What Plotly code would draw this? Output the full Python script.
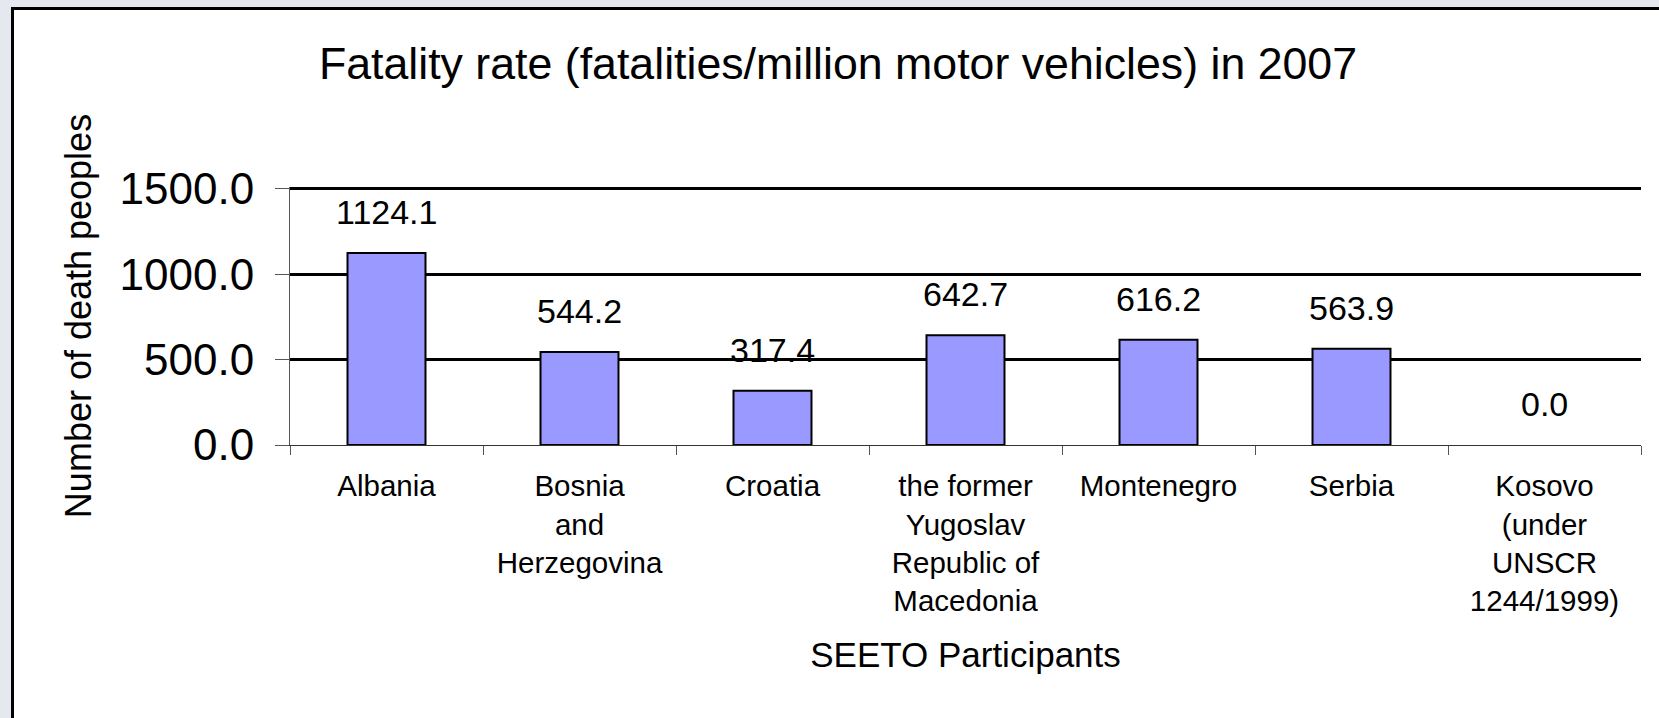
import plotly.graph_objects as go

categories = [
    "Albania",
    "Bosnia<br>and<br>Herzegovina",
    "Croatia",
    "the former<br>Yugoslav<br>Republic of<br>Macedonia",
    "Montenegro",
    "Serbia",
    "Kosovo<br>(under<br>UNSCR<br>1244/1999)",
]
values = [1124.1, 544.2, 317.4, 642.7, 616.2, 563.9, 0.0]
y_ticks = [0, 500, 1000, 1500]

title_text = "Fatality rate (fatalities/million motor vehicles) in 2007"
x_title = "SEETO Participants"
y_title = "Number of death peoples"

FONT = "Liberation Sans, Arial, sans-serif"

W, H = 1659, 718
ML, MR, MT, MB = 290, 18, 187, 273
pw, ph = W - ML - MR, H - MT - MB

def px2paper_x(px):
    return (px - ML) / pw

def px2paper_y(py):
    return (H - MB - py) / ph

fig = go.Figure()
fig.add_trace(go.Bar(
    x=categories,
    y=values,
    width=0.404,
    marker=dict(
        color="#9999FF",
        line=dict(color="black", width=[2 if v > 0 else 0 for v in values]),
    ),
    showlegend=False,
    hoverinfo="x+y",
))

for c, v in zip(categories, values):
    fig.add_annotation(
        x=c, y=v, xref="x", yref="y",
        text=f"{v:.1f}", showarrow=False,
        yanchor="bottom", yshift=20,
        font=dict(family=FONT, size=34, color="black"),
    )

# outer frame
fig.add_shape(
    type="rect", xref="paper", yref="paper", layer="below",
    x0=px2paper_x(12.5), x1=px2paper_x(1700),
    y0=px2paper_y(760), y1=px2paper_y(8.5),
    fillcolor="white", line=dict(color="black", width=3),
)

fig.update_layout(
    width=W, height=H,
    margin=dict(l=ML, r=MR, t=MT, b=MB, autoexpand=False),
    paper_bgcolor="#E6E8F0",
    plot_bgcolor="rgba(0,0,0,0)",
    font=dict(family=FONT, color="black"),
    title=dict(
        text=title_text, x=838 / W, xanchor="center",
        y=1 - 63 / H, yanchor="middle", yref="container",
        font=dict(family=FONT, size=44.7, color="black"),
    ),
    bargap=0.6,
)

fig.update_xaxes(
    type="category",
    range=[-0.5, len(categories) - 0.5],
    tickson="boundaries",
    ticks="outside", ticklen=9, tickwidth=1, tickcolor="#555555",
    showline=True, linecolor="#333333", linewidth=1,
    showgrid=False,
    tickfont=dict(family=FONT, size=29.5, color="black"),
    ticklabelstandoff=15,
    title=dict(text=x_title, font=dict(family=FONT, size=35, color="black"), standoff=26),
)

fig.update_yaxes(
    range=[0, 1510],
    tickvals=y_ticks,
    tickformat=".1f",
    ticks="outside", ticklen=14, tickwidth=1, tickcolor="#555555",
    showline=True, linecolor="#555555", linewidth=1,
    showgrid=True, gridcolor="black", gridwidth=2.5,
    zeroline=True, zerolinecolor="#333333", zerolinewidth=1,
    tickfont=dict(family=FONT, size=44, color="black"),
    ticklabelstandoff=12,
    title=dict(text=y_title, font=dict(family=FONT, size=36, color="black"), standoff=17),
)

fig.write_html(
    "out.html",
    config={"displayModeBar": False},
    post_script="document.body.style.margin='0';document.body.style.overflow='hidden';",
)
